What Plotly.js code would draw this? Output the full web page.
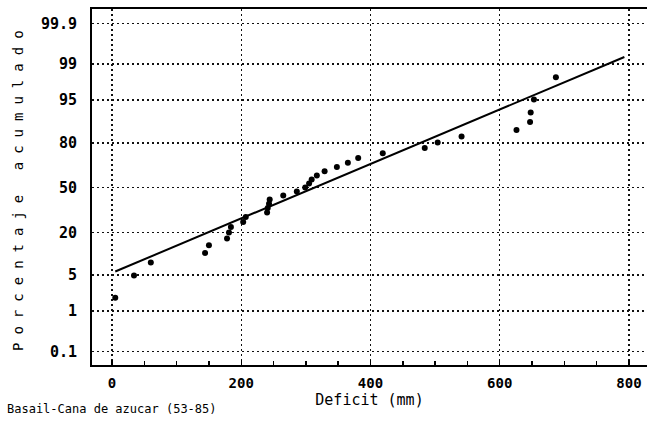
<!DOCTYPE html>
<html>
<head>
<meta charset="utf-8">
<script src="https://cdn.plot.ly/plotly-3.0.1.min.js"></script>
<style>
  html, body { margin: 0; padding: 0; background: #fff; }
  #chart { width: 647px; height: 445px; }
  g.annotation[data-index="0"] text { letter-spacing: 8px; }
</style>
</head>
<body>
<div id="chart"></div>
<script>
// Annual water deficit (mm) and its cumulative probability (%)
const deficitMm = [5, 34, 60, 144, 150, 178, 181, 184, 203, 207, 240, 241, 243, 244,
  265, 286, 299, 305, 309, 317, 329, 348, 365, 381, 419, 484, 504, 541, 626, 647,
  648, 653, 687];
const cumulativePct = [1.9, 4.9, 7.9, 10.9, 13.9, 16.9, 19.9, 22.9, 25.9, 28.9, 32.0,
  35.0, 38.0, 41.0, 44.0, 47.0, 50.0, 53.0, 56.0, 59.0, 62.0, 65.0, 68.0, 71.1, 74.1,
  77.1, 80.1, 83.1, 86.1, 89.1, 92.1, 95.1, 98.1];

// Fitted normal line, end points
const fitDeficit = [5, 793];
const fitPct = [5.7, 99.3];

// Probability axis
const probTicks = [0.1, 1, 5, 20, 50, 80, 95, 99, 99.9];
const probTickText = ["0.1", "1", "5", "20", "50", "80", "95", "99", "99.9"];
const xTicks = [0, 200, 400, 600, 800];

// Inverse standard normal CDF (Acklam), maps percent to a probit scale
function probit(pct) {
  const p = pct / 100;
  const a = [-3.969683028665376e+01, 2.209460984245205e+02, -2.759285104469687e+02,
    1.383577518672690e+02, -3.066479806614716e+01, 2.506628277459239e+00];
  const b = [-5.447609879822406e+01, 1.615858368580409e+02, -1.556989798598866e+02,
    6.680131188771972e+01, -1.328068155288572e+01];
  const c = [-7.784894002430293e-03, -3.223964580411365e-01, -2.400758277161838e+00,
    -2.549732539343734e+00, 4.374664141464968e+00, 2.938163982698783e+00];
  const d = [7.784695709041462e-03, 3.224671290700398e-01, 2.445134137142996e+00,
    3.754408661907416e+00];
  const pl = 0.02425, ph = 1 - pl;
  let q, r;
  if (p < pl) {
    q = Math.sqrt(-2 * Math.log(p));
    return (((((c[0]*q+c[1])*q+c[2])*q+c[3])*q+c[4])*q+c[5]) /
           ((((d[0]*q+d[1])*q+d[2])*q+d[3])*q+1);
  }
  if (p <= ph) {
    q = p - 0.5; r = q * q;
    return (((((a[0]*r+a[1])*r+a[2])*r+a[3])*r+a[4])*r+a[5])*q /
           (((((b[0]*r+b[1])*r+b[2])*r+b[3])*r+b[4])*r+1);
  }
  q = Math.sqrt(-2 * Math.log(1 - p));
  return -(((((c[0]*q+c[1])*q+c[2])*q+c[3])*q+c[4])*q+c[5]) /
          ((((d[0]*q+d[1])*q+d[2])*q+d[3])*q+1);
}

const mono = "DejaVu Sans Mono, Liberation Mono, monospace";

const traces = [
  {
    x: fitDeficit,
    y: fitPct.map(probit),
    mode: "lines",
    line: { color: "#000", width: 2 },
    hoverinfo: "skip"
  },
  {
    x: deficitMm,
    y: cumulativePct.map(probit),
    mode: "markers",
    marker: { symbol: "circle", size: 6, color: "#000" }
  }
];

const layout = {
  width: 647,
  height: 445,
  margin: { l: 92, r: 0, t: 9, b: 80 },
  paper_bgcolor: "#fff",
  plot_bgcolor: "#fff",
  showlegend: false,
  font: { family: mono, color: "#000", size: 13 },
  xaxis: {
    range: [-31, 828],
    tickvals: xTicks,
    ticktext: xTicks.map(String),
    ticks: "inside",
    ticklen: 5,
    tickwidth: 1.5,
    tickcolor: "#000",
    ticklabelstandoff: 4,
    minor: { dtick: 50, ticks: "inside", ticklen: 4, tickwidth: 1.5, tickcolor: "#000", showgrid: false },
    showline: true,
    linecolor: "#000",
    linewidth: 2,
    mirror: true,
    showgrid: true,
    gridcolor: "#111",
    gridwidth: 1.5,
    griddash: "1.5px,3.5px",
    zeroline: false,
    tickfont: { family: mono, size: 14, color: "#000", weight: "bold" },
    title: { text: "Deficit (mm)", font: { family: mono, size: 15, color: "#000" }, standoff: 0 }
  },
  yaxis: {
    range: [-3.34, 3.36],
    tickvals: probTicks.map(probit),
    ticktext: probTickText,
    ticks: "",
    ticklabelstandoff: 10,
    showline: true,
    linecolor: "#000",
    linewidth: 2,
    showgrid: true,
    gridcolor: "#111",
    gridwidth: 1.5,
    griddash: "1.5px,3.5px",
    zeroline: false,
    tickfont: { family: mono, size: 15, color: "#000", weight: "bold" }
  },
  annotations: [
    {
      text: "Porcentaje acumulado",
      xref: "paper", yref: "paper",
      x: (18 - 92) / 555, y: 0.5,
      xanchor: "center", yanchor: "middle",
      textangle: -90,
      showarrow: false,
      font: { family: mono, size: 14, color: "#000" }
    },
    {
      text: "Basail-Cana de azucar (53-85)",
      xref: "paper", yref: "paper",
      x: (5 - 92) / 555, y: (365 - 409) / 356,
      xanchor: "left", yanchor: "middle",
      showarrow: false,
      font: { family: mono, size: 12, color: "#000" }
    }
  ]
};

Plotly.newPlot("chart", traces, layout, { displayModeBar: false, staticPlot: true });
</script>
</body>
</html>
